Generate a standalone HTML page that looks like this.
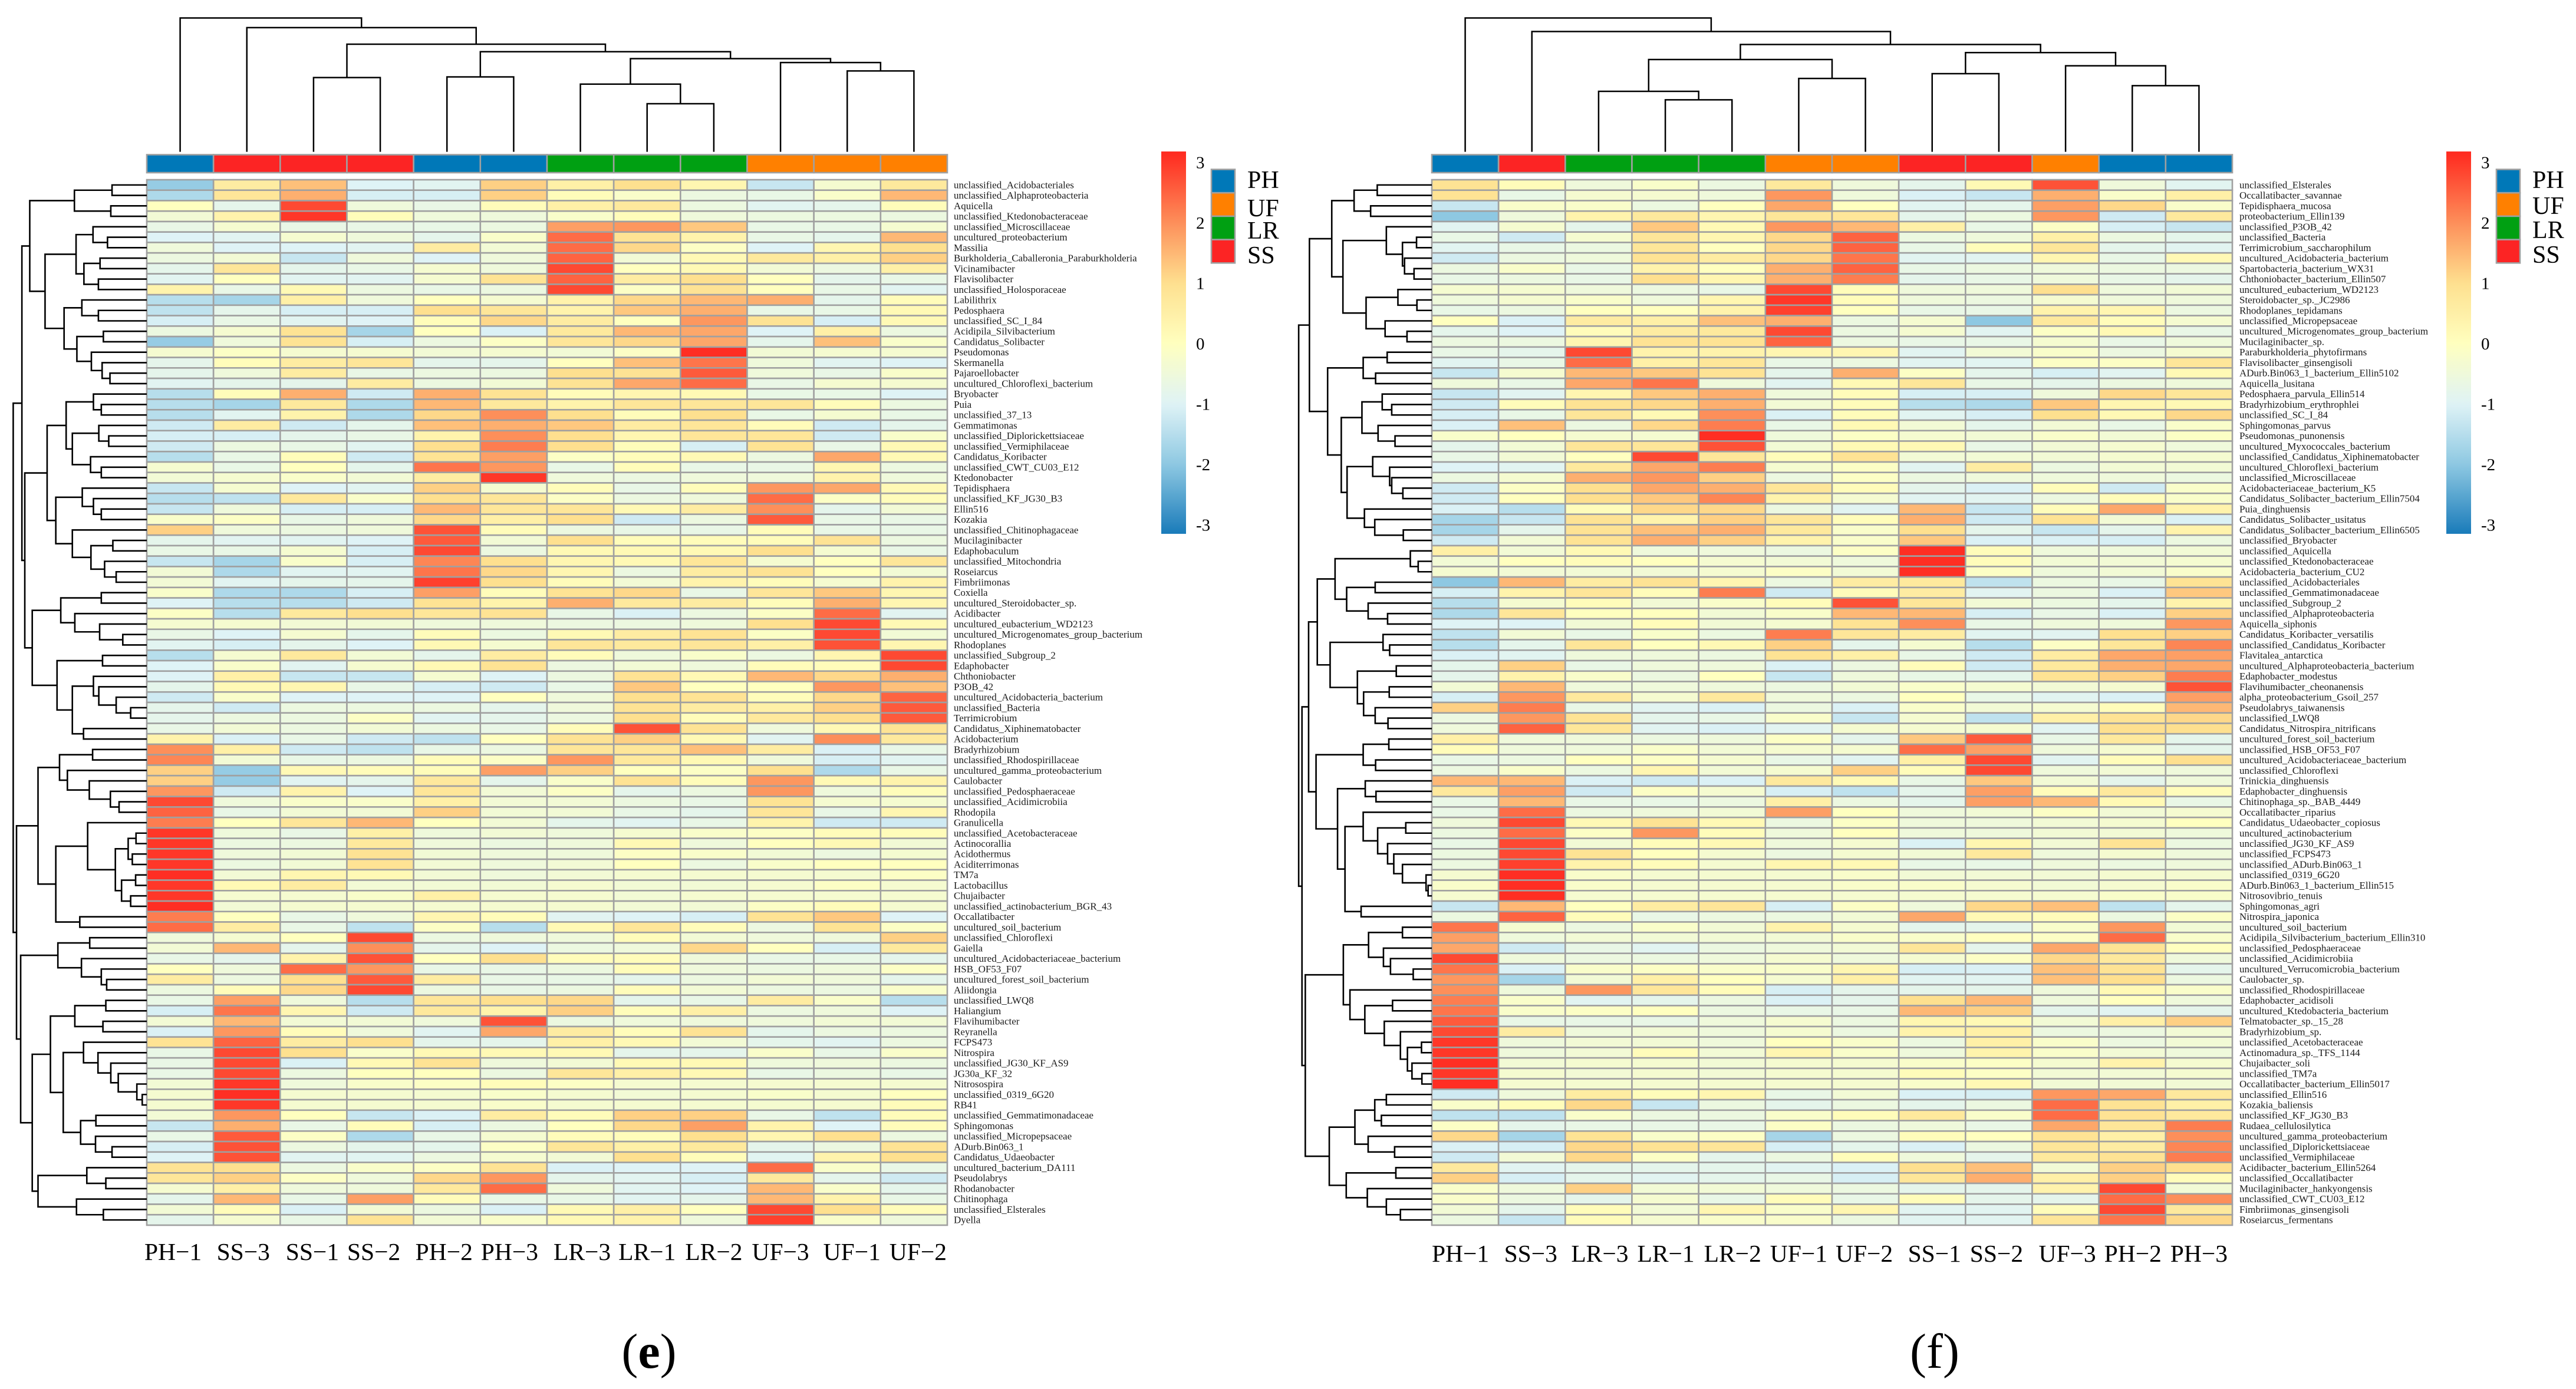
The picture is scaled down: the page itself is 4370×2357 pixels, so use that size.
<!DOCTYPE html>
<html lang="en">
<head>
<meta charset="utf-8">
<title>Clustered heatmaps (e) and (f)</title>
<style>
html,body{margin:0;padding:0;background:#fff;}
svg{display:block;font-family:"Liberation Serif","Times New Roman",serif;}
</style>
</head>
<body>
<svg id="figure" xmlns="http://www.w3.org/2000/svg" width="4370" height="2357" viewBox="0 0 4370 2357">
<rect x="0" y="0" width="4370" height="2357" fill="#fff"/>
</svg>
<script>
const samplesE = ["PH−1","SS−3","SS−1","SS−2","PH−2","PH−3","LR−3","LR−1","LR−2","UF−3","UF−1","UF−2"];
const samplesF = ["PH−1","SS−3","LR−3","LR−1","LR−2","UF−1","UF−2","SS−1","SS−2","UF−3","PH−2","PH−3"];
const legendGroups = ["PH","UF","LR","SS"];
const colorbarTicks = [3,2,1,0,-1,-2,-3];

const taxaE = ["unclassified_Acidobacteriales","unclassified_Alphaproteobacteria","Aquicella","unclassified_Ktedonobacteraceae","unclassified_Microscillaceae","uncultured_proteobacterium","Massilia","Burkholderia_Caballeronia_Paraburkholderia","Vicinamibacter","Flavisolibacter","unclassified_Holosporaceae","Labilithrix","Pedosphaera","unclassified_SC_I_84","Acidipila_Silvibacterium","Candidatus_Solibacter","Pseudomonas","Skermanella","Pajaroellobacter","uncultured_Chloroflexi_bacterium","Bryobacter","Puia","unclassified_37_13","Gemmatimonas","unclassified_Diplorickettsiaceae","unclassified_Vermiphilaceae","Candidatus_Koribacter","unclassified_CWT_CU03_E12","Ktedonobacter","Tepidisphaera","unclassified_KF_JG30_B3","Ellin516","Kozakia","unclassified_Chitinophagaceae","Mucilaginibacter","Edaphobaculum","unclassified_Mitochondria","Roseiarcus","Fimbriimonas","Coxiella","uncultured_Steroidobacter_sp.","Acidibacter","uncultured_eubacterium_WD2123","uncultured_Microgenomates_group_bacterium","Rhodoplanes","unclassified_Subgroup_2","Edaphobacter","Chthoniobacter","P3OB_42","uncultured_Acidobacteria_bacterium","unclassified_Bacteria","Terrimicrobium","Candidatus_Xiphinematobacter","Acidobacterium","Bradyrhizobium","unclassified_Rhodospirillaceae","uncultured_gamma_proteobacterium","Caulobacter","unclassified_Pedosphaeraceae","unclassified_Acidimicrobiia","Rhodopila","Granulicella","unclassified_Acetobacteraceae","Actinocorallia","Acidothermus","Aciditerrimonas","TM7a","Lactobacillus","Chujaibacter","unclassified_actinobacterium_BGR_43","Occallatibacter","uncultured_soil_bacterium","unclassified_Chloroflexi","Gaiella","uncultured_Acidobacteriaceae_bacterium","HSB_OF53_F07","uncultured_forest_soil_bacterium","Aliidongia","unclassified_LWQ8","Haliangium","Flavihumibacter","Reyranella","FCPS473","Nitrospira","unclassified_JG30_KF_AS9","JG30a_KF_32","Nitrosospira","unclassified_0319_6G20","RB41","unclassified_Gemmatimonadaceae","Sphingomonas","unclassified_Micropepsaceae","ADurb.Bin063_1","Candidatus_Udaeobacter","uncultured_bacterium_DA111","Pseudolabrys","Rhodanobacter","Chitinophaga","unclassified_Elsterales","Dyella"];

const taxaF = ["unclassified_Elsterales","Occallatibacter_savannae","Tepidisphaera_mucosa","proteobacterium_Ellin139","unclassified_P3OB_42","unclassified_Bacteria","Terrimicrobium_saccharophilum","uncultured_Acidobacteria_bacterium","Spartobacteria_bacterium_WX31","Chthoniobacter_bacterium_Ellin507","uncultured_eubacterium_WD2123","Steroidobacter_sp._JC2986","Rhodoplanes_tepidamans","unclassified_Micropepsaceae","uncultured_Microgenomates_group_bacterium","Mucilaginibacter_sp.","Paraburkholderia_phytofirmans","Flavisolibacter_ginsengisoli","ADurb.Bin063_1_bacterium_Ellin5102","Aquicella_lusitana","Pedosphaera_parvula_Ellin514","Bradyrhizobium_erythrophlei","unclassified_SC_I_84","Sphingomonas_parvus","Pseudomonas_punonensis","uncultured_Myxococcales_bacterium","unclassified_Candidatus_Xiphinematobacter","uncultured_Chloroflexi_bacterium","unclassified_Microscillaceae","Acidobacteriaceae_bacterium_K5","Candidatus_Solibacter_bacterium_Ellin7504","Puia_dinghuensis","Candidatus_Solibacter_usitatus","Candidatus_Solibacter_bacterium_Ellin6505","unclassified_Bryobacter","unclassified_Aquicella","unclassified_Ktedonobacteraceae","Acidobacteria_bacterium_CU2","unclassified_Acidobacteriales","unclassified_Gemmatimonadaceae","unclassified_Subgroup_2","unclassified_Alphaproteobacteria","Aquicella_siphonis","Candidatus_Koribacter_versatilis","unclassified_Candidatus_Koribacter","Flavitalea_antarctica","uncultured_Alphaproteobacteria_bacterium","Edaphobacter_modestus","Flavihumibacter_cheonanensis","alpha_proteobacterium_Gsoil_257","Pseudolabrys_taiwanensis","unclassified_LWQ8","Candidatus_Nitrospira_nitrificans","uncultured_forest_soil_bacterium","unclassified_HSB_OF53_F07","uncultured_Acidobacteriaceae_bacterium","unclassified_Chloroflexi","Trinickia_dinghuensis","Edaphobacter_dinghuensis","Chitinophaga_sp._BAB_4449","Occallatibacter_riparius","Candidatus_Udaeobacter_copiosus","uncultured_actinobacterium","unclassified_JG30_KF_AS9","unclassified_FCPS473","unclassified_ADurb.Bin063_1","unclassified_0319_6G20","ADurb.Bin063_1_bacterium_Ellin515","Nitrosovibrio_tenuis","Sphingomonas_agri","Nitrospira_japonica","uncultured_soil_bacterium","Acidipila_Silvibacterium_bacterium_Ellin310","unclassified_Pedosphaeraceae","unclassified_Acidimicrobiia","uncultured_Verrucomicrobia_bacterium","Caulobacter_sp.","unclassified_Rhodospirillaceae","Edaphobacter_acidisoli","uncultured_Ktedobacteria_bacterium","Telmatobacter_sp._15_28","Bradyrhizobium_sp.","unclassified_Acetobacteraceae","Actinomadura_sp._TFS_1144","Chujaibacter_soli","unclassified_TM7a","Occallatibacter_bacterium_Ellin5017","unclassified_Ellin516","Kozakia_baliensis","unclassified_KF_JG30_B3","Rudaea_cellulosilytica","uncultured_gamma_proteobacterium","unclassified_Diplorickettsiaceae","unclassified_Vermiphilaceae","Acidibacter_bacterium_Ellin5264","unclassified_Occallatibacter","Mucilaginibacter_hankyongensis","unclassified_CWT_CU03_E12","Fimbriimonas_ginsengisoli","Roseiarcus_fermentans"];

const valuesE = [
[-1.9,.6,1.4,-1,-.9,1.2,.5,1,.3,-1.3,-.3,.7],
[-1.6,.8,1.6,-1.1,-1.1,1.2,.1,-.2,-.6,-.7,-.2,1.5],
[0,-.8,2.8,-.5,-.7,.1,.5,.7,-.6,-.9,-.8,.1],
[-.4,.4,3,.1,-.5,-.5,-.2,.1,-.5,-.6,-.6,-.6],
[-.7,-.3,-.7,-.7,-.7,-.6,1.8,1.9,1.3,-.7,-.7,-.3],
[-1,-.9,-.3,-.5,-.8,-.2,2.4,.9,.4,-.7,-.8,1.5],
[-.5,-1,-1,-.9,.6,-.4,2.4,1.1,-.1,-1,.3,1],
[-.6,-.4,-1.3,-.5,-1,-.5,2.5,-.4,.2,.7,.5,1.2],
[-.8,.8,-.8,-.7,-.3,-.5,2.8,0,.2,-.4,-.6,.5],
[-.9,0,-.9,-.9,-.3,.9,2.5,.6,1,0,-.8,-.7],
[.4,-.7,.2,-.6,-.7,-.6,2.8,-.1,.9,0,-.7,-.9],
[-1.5,-1.7,.5,-.5,0,-.3,.4,1.1,1.5,1.6,-.8,.1],
[-1.4,-.8,-1.1,-1.1,1,.8,.4,1.3,1.6,-.7,-.7,.2],
[-1.1,-.7,-.9,-1,.1,1.1,.6,0,1.9,.9,-1.1,.2],
[-.6,-.3,.9,-1.7,0,-1.05,.7,1.5,1.7,-1,.5,-.6],
[-1.9,-.5,.9,-1.1,-.6,-.1,.8,1.1,1.7,-.8,1.4,-.2],
[-.3,-.1,-.3,-.3,-.4,-.3,-.4,-.1,3.1,-.4,-.3,-.3],
[-.8,.1,.6,.8,-.8,-.8,0,1.4,2.3,-.5,-.9,-1],
[-.8,-.5,.6,-.7,-.6,-.6,1,.9,2.6,-.5,-.7,-.2],
[-.9,-.8,-.8,.6,-.6,-.4,.9,1.7,2.4,-.7,-.3,-.3],
[-1.5,.1,1.6,-1.2,1.6,.9,.1,.3,.2,-.7,-.7,-1],
[-1.5,-1.7,.7,-1.6,1.5,.7,.4,.8,.8,.8,.1,-.6],
[-1.5,-.9,.4,-1.6,1.1,2,1,.1,1,-.7,-.3,-.7],
[-1.2,.6,-1.2,-.8,1.4,1.6,1.3,.6,.8,.1,-1.2,-.8],
[-1.1,-1.1,-.8,-.7,.4,2,1,.3,.8,.8,-1.2,-.2],
[-1.2,-.6,-.7,-.9,1,2.2,1,.1,-1.1,.9,-.7,.2],
[-1.5,-.7,.1,-1.2,.9,1.8,-.1,.1,.2,-.6,1.7,.2],
[-.3,-.7,0,-.8,2.3,1.9,-.7,.1,-.7,-.7,.3,-.6],
[-.4,-.3,-.2,-.4,.6,3,-.5,-.6,-.5,-.5,.4,-.5],
[-1.3,-.3,-1,-.9,1.2,-.3,.1,-.7,.1,1.9,1.7,.2],
[-1.5,-1.4,.7,-.2,1,.8,-.1,-.6,-.5,2.4,-.1,.1],
[-1.3,-.5,-1.1,-1.1,1.5,.8,.8,.2,.6,2,-.8,-.4],
[-.2,-.1,-.7,-.5,1.1,.5,1,-1.2,-.6,2.6,-.7,-.7],
[1.2,-.5,-.6,-.5,2.7,.1,-.6,-.7,-.7,.1,-.7,-.7],
[-.8,-.9,-.9,-1,2.6,-.4,1,.1,.1,.1,.9,-.6],
[-.7,-.7,-.3,-1.1,2.8,-.6,.2,.2,.2,1,-.3,-.7],
[-1.3,-1.7,-.2,-1.1,2.1,1,.3,.2,.8,-.3,0,.8],
[-.4,-1.6,-.9,-.9,2.3,1.1,.3,-.6,.6,.9,0,-.4],
[-.4,-.9,-.8,-.8,2.9,1,.1,-.4,.4,.1,-.3,.4],
[-.2,-1.6,-1.6,-1.1,1.8,.1,.9,1.1,-.7,.8,1.3,.3],
[-1,-1.5,-1.5,-1.2,.9,.4,1.6,.7,.6,.1,1.6,.3],
[-.1,-1.5,.7,1,.8,.9,-.7,-1.05,-.6,-.1,2.4,-.9],
[-.3,-.3,-.4,-.4,-.5,-.5,-.6,-.6,-.5,1,2.8,.2],
[-.7,-1,-.3,-.8,.1,-.6,.2,.6,.9,-.1,2.8,-.4],
[-.9,-1.1,-.8,-1,.2,-.3,.8,.7,.8,.5,2.7,.3],
[-1.5,-.3,.7,-.4,-.8,.6,.1,-.5,-.2,-.6,.3,2.8],
[-1,-.2,-.9,-.3,.2,.9,-.6,-.4,-.5,.1,.1,2.8],
[-1,.5,-1.3,-1.3,-.3,-1,-.6,.9,.2,1.5,1.1,1.6],
[-.8,.2,.3,-.7,-1.1,-1.2,-.7,1.3,0,0,1.9,1.4],
[-1.2,-.2,-1,-1,-1,0,-.5,1,.9,.1,1.1,2.5],
[-.8,-1.2,-.6,-.6,-.6,-.8,-.5,.9,.6,.5,1.2,2.6],
[-.8,-.6,-.6,-.1,-.9,-.8,-.6,1,.1,.7,1,2.6],
[-.7,-.4,-.6,-.4,-.6,-.7,.1,2.7,.9,-.5,.2,.9],
[.4,-1.05,-.7,-1.2,-1.4,0,.9,1.2,.2,-.9,2,.7],
[2,.5,-1.2,-1.4,-.7,-.6,.8,.8,1.4,.6,-1.05,-.7],
[2.1,-.4,-.7,-.6,.1,-.1,1.9,.7,.2,-.5,-1.1,-.9],
[1.2,-1.9,.2,.1,.1,1.8,1.2,0,-.1,1,-1.6,-.7],
[1.2,-1.9,-.9,-.8,.7,-.8,-.2,.9,.1,1.9,.2,.4],
[1.9,-1.2,.4,-1,.8,-.4,-.1,-.8,-.6,1.9,-.5,.1],
[2.8,-.5,-.2,-.2,.5,-.4,-.4,-.6,-.7,.9,-.3,-.3],
[2.5,-.7,-.4,-.4,1.2,-.4,-.4,-.7,-.8,.8,-.7,.3],
[2.2,0,.8,1.5,0,-.4,-.8,-.9,-.7,.4,-1.2,-1.2],
[3,-.5,-.7,.5,-.5,-.4,-.5,-.3,-.2,-.1,.1,.1],
[3,-.6,-.6,.7,-.5,-.6,-.5,.2,-.5,0,.2,-.4],
[3,-.5,-.4,.9,-.4,-.5,-.5,-.1,-.2,-.4,-.6,-.3],
[3,-.6,-.4,.9,-.4,-.5,-.4,0,-.6,-.2,0,0],
[3.1,-.4,.3,.2,-.4,-.5,-.4,-.3,-.3,-.3,-.3,-.1],
[3,.2,.6,-.4,-.4,-.4,-.3,-.4,-.4,-.3,-.1,-.3],
[3,-.3,-.3,-.2,.5,-.3,-.3,-.4,-.3,-.3,-.3,-.3],
[3.1,-.4,-.3,-.3,-.3,-.3,-.3,-.4,-.4,-.1,.1,-.3],
[2.2,0,-.7,-.5,.3,.1,-.9,-1,-1.1,.9,1.3,-1],
[2.4,.6,-.7,-1.4,-.1,-1.5,.2,.8,.1,-.6,.9,-.1],
[-.5,-.3,0,2.8,-.6,-.5,-.5,.1,-.4,-.5,-.5,1.2],
[-.4,1.5,-.8,2,-.8,-1,-.6,-.5,1.1,0,-1.1,.7],
[-.7,-.8,.4,2.7,0,1,.1,.1,-.5,-.7,-.7,-.8],
[0,-.5,2.4,1.9,-.7,-.7,-.6,.1,-.5,-.6,-.5,-.1],
[.6,-.6,1,2.6,.6,-.7,-.7,-.8,-.6,-.4,-.5,-.8],
[-.6,.1,1.1,2.8,-.6,-.7,-.6,.1,-.4,-.6,-.6,-.2],
[-.7,1.8,-.5,-1.5,.8,1,1.1,-.8,-.7,.6,-.2,-1.5],
[-1.1,2.3,.3,-1.2,.7,.4,1.2,.1,.5,-.6,-.5,-1],
[-.4,1.5,-.4,-.4,-.5,2.7,-.6,-.5,-.5,-.5,-.4,-.4],
[-1.05,1.9,.1,-.5,-.9,1.7,.6,.1,.9,-.8,-.6,-.6],
[.9,2.5,.6,1,-.8,-.8,.5,.2,-.4,-.8,-.9,-.6],
[-.7,2.8,1,-.2,.2,.2,.2,-.8,-.8,-.2,-.7,-.2],
[-.7,2.8,-1.05,.2,.9,-.5,-.4,.2,.2,-.5,-.5,-.6],
[-.7,2.8,-.6,0,0,-.6,.8,.5,.2,-.7,-.6,-.7],
[-.4,3,-.5,-.2,-.1,.1,-.1,-.3,-.3,-.3,-.3,-.3],
[-.3,3.1,-.3,-.3,-.3,-.2,-.3,-.4,-.3,-.2,-.3,0],
[-.3,3,-.3,-.3,-.3,-.2,-.3,-.3,-.3,-.3,-.3,.1],
[-.4,1.9,0,-1.3,-1.05,.6,.1,1.2,1.2,-.7,-1.4,.1],
[-1.3,1.6,-.7,.1,-1.1,-.6,0,1.1,1.8,.4,-1,.1],
[-.7,2.6,-.1,-1.6,-.7,-.3,.1,.1,1,.3,1,-.6],
[-1.1,2.7,-.6,-.8,-.8,-.1,.8,.5,.7,-.8,-.6,.9],
[-1,2.7,-.9,-.9,-.6,-.3,-.4,1,.1,-.9,.4,1],
[.9,1,-.6,-.2,-.1,.9,-1.05,-1,-1,2.4,-.2,-.7],
[.8,1.2,-.1,-.5,1.1,1.9,-.8,-.9,-1.1,.7,-.8,-1.2],
[-.3,.5,-.5,-.5,.7,2.4,-.5,-.9,-1,1.5,-.2,-.8],
[-.8,1.5,-.7,1.8,.1,-.7,-.7,-.9,-.8,1.5,.4,-.7],
[-.4,.1,-1.05,-.4,-.6,-1.05,.2,.5,0,2.8,1,.1],
[-.8,-.3,-.7,.9,-.4,-.2,.2,.4,-.5,2.9,-.2,-.5]
];

const valuesF = [
[.9,.1,-.5,-.2,-.6,.7,-.5,-.8,.2,2.7,-.5,-.9],
[.9,-.7,-.3,-.3,-.5,1.9,-.5,-1.05,-1.3,1.6,-.2,.5],
[-1.3,-.2,-.2,-.6,0,1.7,0,-.9,-.8,1.8,1.1,-.2],
[-2,-.5,.4,.7,.3,.8,.8,-.8,-.6,1.9,-1.2,.7],
[-.9,-.3,-.8,1.3,.2,1.9,1.5,.5,-.7,-.1,-1.1,-1.3],
[-.7,-1.2,-.3,.8,.3,1.1,2.5,-.6,-.5,.5,-.6,-.8],
[-.9,-.7,-.6,.8,0,1.1,2.5,-.7,.1,.8,-.8,-.9],
[-1.2,-.6,-.5,.9,.6,1.1,2.3,-.9,-.9,.3,-.7,.2],
[-.6,-.2,-.7,.4,0,1.6,2.5,-.7,-.6,-.5,-.6,-.6],
[-.7,-.6,-.7,1,.3,1.6,2.2,-.8,-.7,-.5,-.7,-.8],
[-.3,-.3,-.5,-.6,-.7,2.8,.1,-.5,-.5,1,-.5,-.4],
[-.5,-.3,-.2,-.5,.3,3,.1,-.5,-.6,-.3,-.5,-.5],
[-.7,-.6,0,0,.4,2.9,0,-.7,-.7,.4,.3,-.6],
[0,-1.05,.6,.5,1.4,1.6,-.6,-.3,-2,.7,.1,-.3],
[-.8,-1,.1,.6,.7,2.8,-.6,-.3,-.9,-.1,.2,-.7],
[-.6,-.6,.3,.9,.9,2.5,-.6,-.7,-.7,-.3,-.7,-.5],
[-.7,-.8,2.8,.4,.4,.3,.3,-.9,-.4,-.2,-.6,-.3],
[-.9,-.7,2.4,.5,.8,-.7,-.6,-.9,-.9,-.1,-.1,.8],
[-1.3,-.3,1.5,1.3,.9,-.8,1.6,-.1,-.8,-1.1,-.9,.2],
[-.5,-.7,1.7,2.3,-.5,-.9,.2,.8,-.7,-.8,-.6,-.5],
[-1.3,-.9,.3,1.3,1.6,-.5,.1,-1.1,-1.1,-.5,1.1,.8],
[-1.2,.1,.9,1.1,1.6,-.4,.1,-1.5,-1.6,1.3,.3,.2],
[-1.1,-.7,.8,.2,2,-1.05,.1,-.9,-1.1,1,.2,1.1],
[-1.05,1.4,-.6,1.1,2.2,-.7,.2,-.4,-.8,-.4,-.7,-.2],
[-.2,0,-.3,-.3,3.1,-.5,-.1,-.3,-.4,-.2,-.4,-.1],
[-.8,-.4,.8,.8,2.7,-.4,.2,.2,-.7,-.4,-.3,-.5],
[-.7,-.4,0,2.8,.8,.1,.9,-.4,-.4,-.4,-.3,-.3],
[-1,-.9,.7,1.7,2.2,-.3,-.1,-.9,.6,-.6,-.4,-.4],
[-.6,-.3,1.6,1.9,1.2,-.6,-.1,-.6,-.5,-.5,-.5,-.6],
[-1.2,-.1,1,1.7,1.6,.8,.1,-.8,-1.05,.1,-1.2,-.2],
[-1.2,0,1,1.3,2.1,.4,-.3,-.9,-.9,-.6,.1,-.2],
[-1.05,-1.5,.1,1.1,1.1,-.6,-.9,1.5,-1.3,.1,1.7,.4],
[-1.7,-1.3,.9,.4,1.2,.8,.1,1.6,-1.2,.9,-.4,-1.05],
[-1.7,-.8,.9,1.4,1.6,.7,-.2,1,-.8,-1.3,-.8,.4],
[-1.2,-.4,.9,1.6,1.2,.4,-.2,1.3,-1.05,-1.05,-1.1,-.6],
[.5,-.4,.2,-.5,-.5,-.6,-.1,3.1,.1,-.5,-.5,-.4],
[-.4,0,.1,0,-.3,-.4,-.5,3.1,.1,-.4,-.4,-.3],
[-.3,-.4,-.4,-.4,-.3,-.1,-.4,3.1,-.1,-.5,-.4,-.2],
[-2,1.5,.6,.9,.3,-.6,.6,.7,-1.4,-.6,-.7,.9],
[-1.1,.4,.8,.1,2.2,-1.2,.1,.6,-.9,-.6,-1.05,1.3],
[-1.5,-.3,.1,-.4,-.2,.1,2.7,.8,-.4,-.6,-.8,.4],
[-1.6,.8,0,0,-.4,-.2,1.5,1.5,-1.1,-.7,-1.05,1.2],
[-1,-1,-.4,.1,-.4,-.3,.9,2,-.7,-.5,-.5,1.9],
[-1.4,-.4,-.7,-.2,-.6,2.2,.8,.6,-.9,-.9,1,1.2],
[-1.5,-.8,.8,0,.2,1.2,-.8,-.3,-1.5,-.1,.8,2.1],
[-1.05,-.9,-.5,-.5,-.6,.9,.5,-.7,-1.2,.6,1.7,1.8],
[-.8,1.2,-.7,-.5,-.5,-1.05,-.6,.1,-1.2,.7,1.6,1.7],
[-.8,.4,-.2,-.6,0,-1.3,-.5,-.7,-.8,.9,1.2,2.2],
[-.4,1.5,-.5,-.5,-.5,-.6,-.4,-.2,-.3,-.4,-.3,2.7],
[-1.1,1.9,.7,-.3,.7,-.5,-.6,0,-.7,-.9,-1.05,1.8],
[1.2,2.2,-.7,-.9,-1.05,-.6,-1.05,-.2,-.4,-.3,.1,1.5],
[-.6,1.9,.9,-.8,-.7,-.2,-1.3,-.3,-1.4,.5,.9,1.1],
[-.5,2.5,.8,-.9,-1.05,-.9,-.3,-.3,-.3,-.9,1,1],
[.5,-.5,-.5,-.6,-.5,-.1,-.8,1.3,2.6,-.7,.7,-.8],
[.1,-.5,-.5,-.2,-.4,-.3,-.3,2.4,1.8,-.5,-.3,-.8],
[-.7,-.6,0,-.1,-.3,-.7,-.9,.5,2.8,-.9,.1,1],
[-.6,-.2,-.6,.3,-.4,-.3,1.2,.1,2.8,-.5,-.4,-.5],
[1.5,1.5,-1.05,-1.2,-1.05,.7,.2,-.7,1.3,-.4,-.8,-.5],
[.7,1.8,-1.2,-.1,-.3,-1.1,-1.4,-.8,1.8,.1,.7,.1],
[-.7,1.5,-.7,-.7,-.6,.5,-.6,-.8,1.8,1.5,.2,-.7],
[-.7,2.4,-.6,-.5,-.4,1.8,0,-.5,-.4,-.1,-.4,-.3],
[-.5,2.8,.2,.9,.2,-.6,-.1,-.5,-.5,-.4,-.3,0],
[-.6,2.4,-.1,1.9,.1,-.5,0,-.5,-.5,-.4,-.4,-.5],
[-.7,2.8,-.4,.1,.2,-.5,-.3,-1.05,.3,-.4,.9,-.6],
[-.6,2.8,.9,0,-.3,-.6,-.3,-.4,.7,-.5,-.3,-.5],
[-.6,2.9,.4,.1,-.3,.3,.2,-.7,-.7,-.5,-.6,-.5],
[-.3,3.1,-.2,-.3,-.3,-.3,-.2,-.4,-.4,-.4,-.3,-.3],
[-.2,3.1,-.2,-.3,-.3,-.3,-.2,-.2,-.3,-.4,-.3,-.2],
[-.3,3.1,-.3,-.3,-.3,-.3,-.3,-.3,-.3,-.3,-.2,-.2],
[-1.3,1.5,0,.6,.8,-1.1,-.1,-.5,1.1,1.4,-1.4,-.8],
[-.6,2.5,.1,-.7,-.6,-.6,-.4,1.7,.2,.1,-.6,-.1],
[2.3,-.3,-.6,-.2,-.4,.4,-.3,-.8,-.8,-.2,1.9,-.4],
[1.8,-.5,-.4,-.4,-.4,-.4,-.2,-.2,0,-.1,2.4,-.2],
[1.7,-1.2,-.7,-.9,-.6,-.5,-.4,.8,-.8,1.7,.9,0],
[2.8,-.5,-.6,-.6,-.5,-.3,-.5,-.3,-.1,1.1,.7,-.5],
[2.3,-1.05,-.2,-.1,-.2,-.2,.3,-1.1,-1.05,1.4,.9,-.8],
[1.9,-1.7,-.4,.5,0,-.3,.5,-.9,-.9,1.4,1,-.6],
[2,-.5,1.9,.8,.1,-1.1,-.8,-.8,-.8,-.5,.2,-.2],
[2.2,-.2,-.9,-.8,-.6,-1.05,-.8,1,1.5,-.5,0,-.5],
[2.3,-.2,-.1,0,-.6,-.7,-.7,1.5,1.2,-.8,-.9,-.8],
[2.6,-.7,-.7,-.7,-.5,-.3,-.6,.3,.2,-.4,.5,1.2],
[2.8,.6,-.5,-.4,-.5,-.3,-.6,.4,.5,-.6,-.6,-.4],
[3,-.5,-.4,-.4,-.5,0,-.2,-.6,.5,-.2,-.6,-.4],
[3,-.5,-.4,.1,-.4,.3,-.2,-.5,.4,-.2,-.4,-.5],
[3.1,-.4,-.3,-.3,-.4,-.3,-.3,-.2,-.1,-.3,.4,-.3],
[3,-.3,-.4,-.3,-.4,-.3,-.3,.1,-.1,-.4,-.4,-.3],
[3.1,-.3,-.3,-.3,-.3,-.3,-.3,-.2,.2,-.4,-.4,-.4],
[-1.2,-.5,.6,.1,.3,-.7,-.4,-1.05,-1.1,1.9,1.7,.7],
[-.2,.1,1.1,-1.3,-.6,-.8,-.6,-.8,-.6,2.4,.9,.5],
[-1.4,-1.4,-.2,-.6,-.6,-.2,.1,.7,-.2,2.4,.9,.7],
[-.1,-.8,-.7,-.7,-.7,-.1,-.6,-.5,-.7,1.7,.8,2.2],
[1.1,-1.7,.9,-.2,-.1,-1.7,-.6,.1,0,.9,.5,2],
[-1.05,-1.1,1.1,.9,.8,-1.1,-.8,-1.05,-.6,.8,.6,2.1],
[-1.2,-.4,1.1,-.1,-.8,-.6,.1,-.5,-.8,.7,.9,2.2],
[.7,-.9,-.8,-.8,-.8,-.9,-1.05,1,1.4,-.4,1.2,1],
[1.2,-1.1,-.8,-.9,-.8,-.7,-1.1,.8,1.6,.5,1.2,.1],
[-.2,-.5,1.2,-.4,-.4,-.5,-.6,-.8,-.8,.4,2.8,-.4],
[-.2,-.6,-.8,-.3,-.7,.1,-.7,.1,-.8,-.8,2.4,2],
[-.4,-.8,.1,-.4,.3,-.2,.3,-.9,-.9,.1,2.8,.7],
[-.6,-1.3,.1,-.3,-.2,-.2,-.6,-.9,-.9,.8,2.3,1.1]
];

/* Dendrograms: each node is [merge distance, left child, right child]; 0 is a leaf. */
const rowTreeE = [323,
 [302,
  [283,[175,[84,0,0],[87,0,0]],
   [246,[171,[130,0,[95,0,0]],[152,[113,0,0],[117,0,0]]],
    [200,[157,0,[117,0,0]],[169,[105,0,0],[134,0,[108,0,[89,0,0]]]]]]],
  [295,
   [241,
    [195,[129,0,[110,0,0]],[180,[116,0,[92,0,0]],[136,0,[110,0,0]]]],
    [220,[156,0,[129,0,[110,0,0]]],[180,0,[135,[82,0,0],[102,0,[74,0,0]]]]]],
   [277,
    [208,[110,0,0],[174,0,[114,0,[58,0,0]]]],
    [217,[107,0,0],[180,[129,0,[116,0,[74,0,[39,0,0]]]],[153,0,0]]]]]],
 [315,
  [263,
   [211,[131,0,0],[192,0,[139,0,[88,0,[67,0,0]]]]],
   [220,[143,0,[76,[45,[26,0,0],[35,0,0]],[61,[27,0,0],[39,0,0]]]],[162,0,0]]],
  [305,
   [215,[138,0,0],[158,0,[110,0,[97,0,0]]]],
   [277,
    [233,[174,[99,0,0],[106,0,0]],
     [202,[153,0,[118,0,[87,0,[69,0,[24,0,[11,0,0]]]]]],[160,[123,0,0],[124,0,[84,0,0]]]]],
    [263,[145,0,[99,0,0]],[170,0,[105,0,0]]]]]]];

const colTreeE = [445,0,[413,0,[358,[247,0,0],[333,[249,0,0],[310,[225,0,[160,0,0]],[297,0,[269,0,0]]]]]]];

const rowTreeF = [322,
 [296,
  [242,[188,[132,0,0],[148,0,0]],
   [215,[110,0,[71,[37,0,0],[66,0,[43,0,0]]]],[159,[82,0,[36,0,0]],[113,0,[60,0,0]]]]],
  [252,[166,[108,0,0],[136,0,0]],
   [219,[169,[120,0,[97,0,0]],[130,0,[89,0,0]]],
    [205,[143,0,[102,0,[97,0,[70,0,0]]]],[163,0,[138,0,[69,0,0]]]]]]],
 [314,
  [298,
   [277,
    [234,[52,0,[33,0,0]],[206,[137,0,0],[154,0,[107,0,0]]]],
    [246,[118,0,[102,0,0]],[180,[86,0,0],[165,[103,0,0],[137,0,[106,0,0]]]]]],
   [280,[166,[104,0,0],[136,0,0]],
    [228,[161,0,[135,0,0]],
     [210,[166,0,[131,[63,0,0],[107,0,[92,0,[71,0,[14,0,[9,0,0]]]]]]],[171,0,0]]]]],
  [306,
   [214,[153,[71,0,0],[117,0,[100,0,[45,0,0]]]],
    [198,0,[162,[95,0,0],[115,0,[76,0,[59,[25,0,0],[48,0,[24,0,0]]]]]]]],
   [248,[186,[138,[110,0,0],[122,0,0]],[154,0,[90,0,0]]],
    [207,[87,0,0],[156,0,[110,0,[76,0,0]]]]]]]];

const colTreeF = [445,0,[400,0,[357,[307,[201,0,[173,0,0]],[244,0,0]],[330,[260,0,0],[286,0,[220,0,0]]]]]];

/* Colour scale */
const scaleStops = [-3.2,-2,-1,0,1,2,3.15];
const scaleColors = ["#1478b8","#8ec8e2","#dff3f6","#ffffbf","#fee08f","#fd8f5a","#ff2a20"];
const groupColors = {PH:"#0078b8",UF:"#ff8000",LR:"#00a012",SS:"#fc2424"};

function hexToRgb(h){return [parseInt(h.slice(1,3),16),parseInt(h.slice(3,5),16),parseInt(h.slice(5,7),16)];}
function valueColor(v){
  const lo=scaleStops[0],hi=scaleStops[scaleStops.length-1];
  const x=Math.max(lo,Math.min(hi,v));
  let i=0;
  while(i<scaleStops.length-2 && x>scaleStops[i+1]) i++;
  const t=(x-scaleStops[i])/(scaleStops[i+1]-scaleStops[i]);
  const a=hexToRgb(scaleColors[i]),b=hexToRgb(scaleColors[i+1]);
  const c=a.map((q,k)=>Math.round(q+(b[k]-q)*t));
  return "rgb("+c.join(",")+")";
}

const SVGNS="http://www.w3.org/2000/svg";
const root=document.getElementById("figure");
function el(tag,parent,geom){
  const e=document.createElementNS(SVGNS,tag);
  for(const k in geom) e.setAttribute(k,geom[k]);
  parent.appendChild(e);
  return e;
}

const GRID="#a0a0a0";
const defs=el("defs",root,{});

function drawPanel(p){
  const colW=p.heatW/p.samples.length;
  const rowH=p.heatH/p.taxa.length;
  const colX=i=>p.heatX+colW*i;
  const rowY=i=>p.heatY+rowH*i;
  const rowDist=d=>p.heatX-d*0.7015;
  const colDist=d=>257.6-d*0.5102;

  const g=el("g",root,{});
  
  

  /* heatmap cells */
  const cells=el("g",g,{stroke:GRID,"stroke-width":2.6});
  
  
  p.values.forEach((row,r)=>{
    row.forEach((v,c)=>{
      const cell=el("rect",cells,{x:colX(c),y:rowY(r),width:colW,height:rowH,fill:valueColor(v)});
      
      
    });
  });

  /* annotation bar */
  const ann=el("g",g,{stroke:GRID,"stroke-width":2.6});
  
  
  p.samples.forEach((s,c)=>{
    const cell=el("rect",ann,{x:colX(c),y:262.5,width:colW,height:30.5,fill:groupColors[s.split("−")[0]]});
    
    
  });

  /* row labels */
  p.taxa.forEach((t,r)=>{
    const tx=el("text",g,{x:p.heatX+p.heatW+p.rowLabelGap,y:rowY(r)+rowH/2+5.5,"font-size":17,fill:"#1a1a1a"});
    tx.textContent=t;
    
    
  });

  /* column labels */
  p.samples.forEach((s,c)=>{
    const tx=el("text",g,{x:colX(c)+colW/2+p.labelNudge[c],y:p.colLabelY,"font-size":41.5,"text-anchor":"middle",fill:"#000"});
    tx.textContent=s;
    
    
  });

  /* row dendrogram */
  const rowDen=el("g",g,{fill:"none",stroke:"#000","stroke-width":2.6});
  
  
  let nextRow=0;
  (function walk(n){
    if(n===0){const pos=rowY(nextRow++)+rowH/2;return {pos:pos,dist:0};}
    const a=walk(n[1]),b=walk(n[2]);
    const link=el("path",rowDen,{d:"M"+rowDist(a.dist)+" "+a.pos+"H"+rowDist(n[0])+"V"+b.pos+"H"+rowDist(b.dist)});
    
    
    return {pos:(a.pos+b.pos)/2,dist:n[0]};
  })(p.rowTree);

  /* column dendrogram */
  const colDen=el("g",g,{fill:"none",stroke:"#000","stroke-width":2.5});
  
  
  let nextCol=0;
  (function walk(n){
    if(n===0){const pos=colX(nextCol++)+colW/2;return {pos:pos,dist:0};}
    const a=walk(n[1]),b=walk(n[2]);
    const link=el("path",colDen,{d:"M"+a.pos+" "+colDist(a.dist)+"V"+colDist(n[0])+"H"+b.pos+"V"+colDist(b.dist)});
    
    
    return {pos:(a.pos+b.pos)/2,dist:n[0]};
  })(p.colTree);

  /* colour bar */
  const scaleY=v=>583-102.5*v;
  const grad=el("linearGradient",defs,{id:p.id+"-grad",x1:0,y1:1,x2:0,y2:0});
  const barLo=-3.15,barHi=3.18;
  for(let i=0;i<=60;i++){
    const v=barLo+(barHi-barLo)*i/60;
    el("stop",grad,{offset:(i/60*100)+"%","stop-color":valueColor(v)});
  }
  const bar=el("rect",g,{x:p.barX,y:scaleY(barHi),width:42,height:scaleY(barLo)-scaleY(barHi),fill:"url(#"+p.id+"-grad)"});
  
  
  colorbarTicks.forEach(t=>{
    const tx=el("text",g,{x:p.barX+59,y:scaleY(t)+10,"font-size":29,fill:"#000"});
    tx.textContent=String(t);
    
    
  });

  /* legend */
  legendGroups.forEach((name,i)=>{
    const sw=el("rect",g,{x:p.legendX,y:287.5+39.7*i,width:40,height:39.7,fill:groupColors[name],stroke:GRID,"stroke-width":2.6});
    
    
    const tx=el("text",g,{x:p.legendX+61,y:p.legendLabelY[i]+14,"font-size":42,fill:"#000"});
    tx.textContent=name;
    
    
  });

  /* panel letter */
  const title=el("text",g,{x:p.titleX,y:2321,"font-size":84,"text-anchor":"middle",fill:"#000"});
  const o=el("tspan",title,{});
  o.textContent="(";
  const m=el("tspan",title,{"font-weight":p.titleWeight});
  m.textContent=p.letter;
  const c=el("tspan",title,{});
  c.textContent=")";
  
  
}

drawPanel({id:"panel-e",letter:"e",titleX:1101,titleWeight:"bold",samples:samplesE,taxa:taxaE,values:valuesE,rowTree:rowTreeE,colTree:colTreeE,
  heatX:249,heatY:305,heatW:1358,heatH:1774,rowLabelGap:11,colLabelY:2138,labelNudge:[-12,-6,-2,-11,-5,-7,3,0,0,0,8,7],
  barX:1970,legendX:2055,legendLabelY:[305,353,391,433]});
drawPanel({id:"panel-f",letter:"f",titleX:3282,titleWeight:"normal",samples:samplesF,taxa:taxaF,values:valuesF,rowTree:rowTreeF,colTree:colTreeF,
  heatX:2429,heatY:305,heatW:1358,heatH:1774,rowLabelGap:12,colLabelY:2141,labelNudge:[-8,-2,2,1,1,0,-2,4,-4,3,1,0],
  barX:4150,legendX:4235,legendLabelY:[305,349,390,432]});
</script>
</body>
</html>
